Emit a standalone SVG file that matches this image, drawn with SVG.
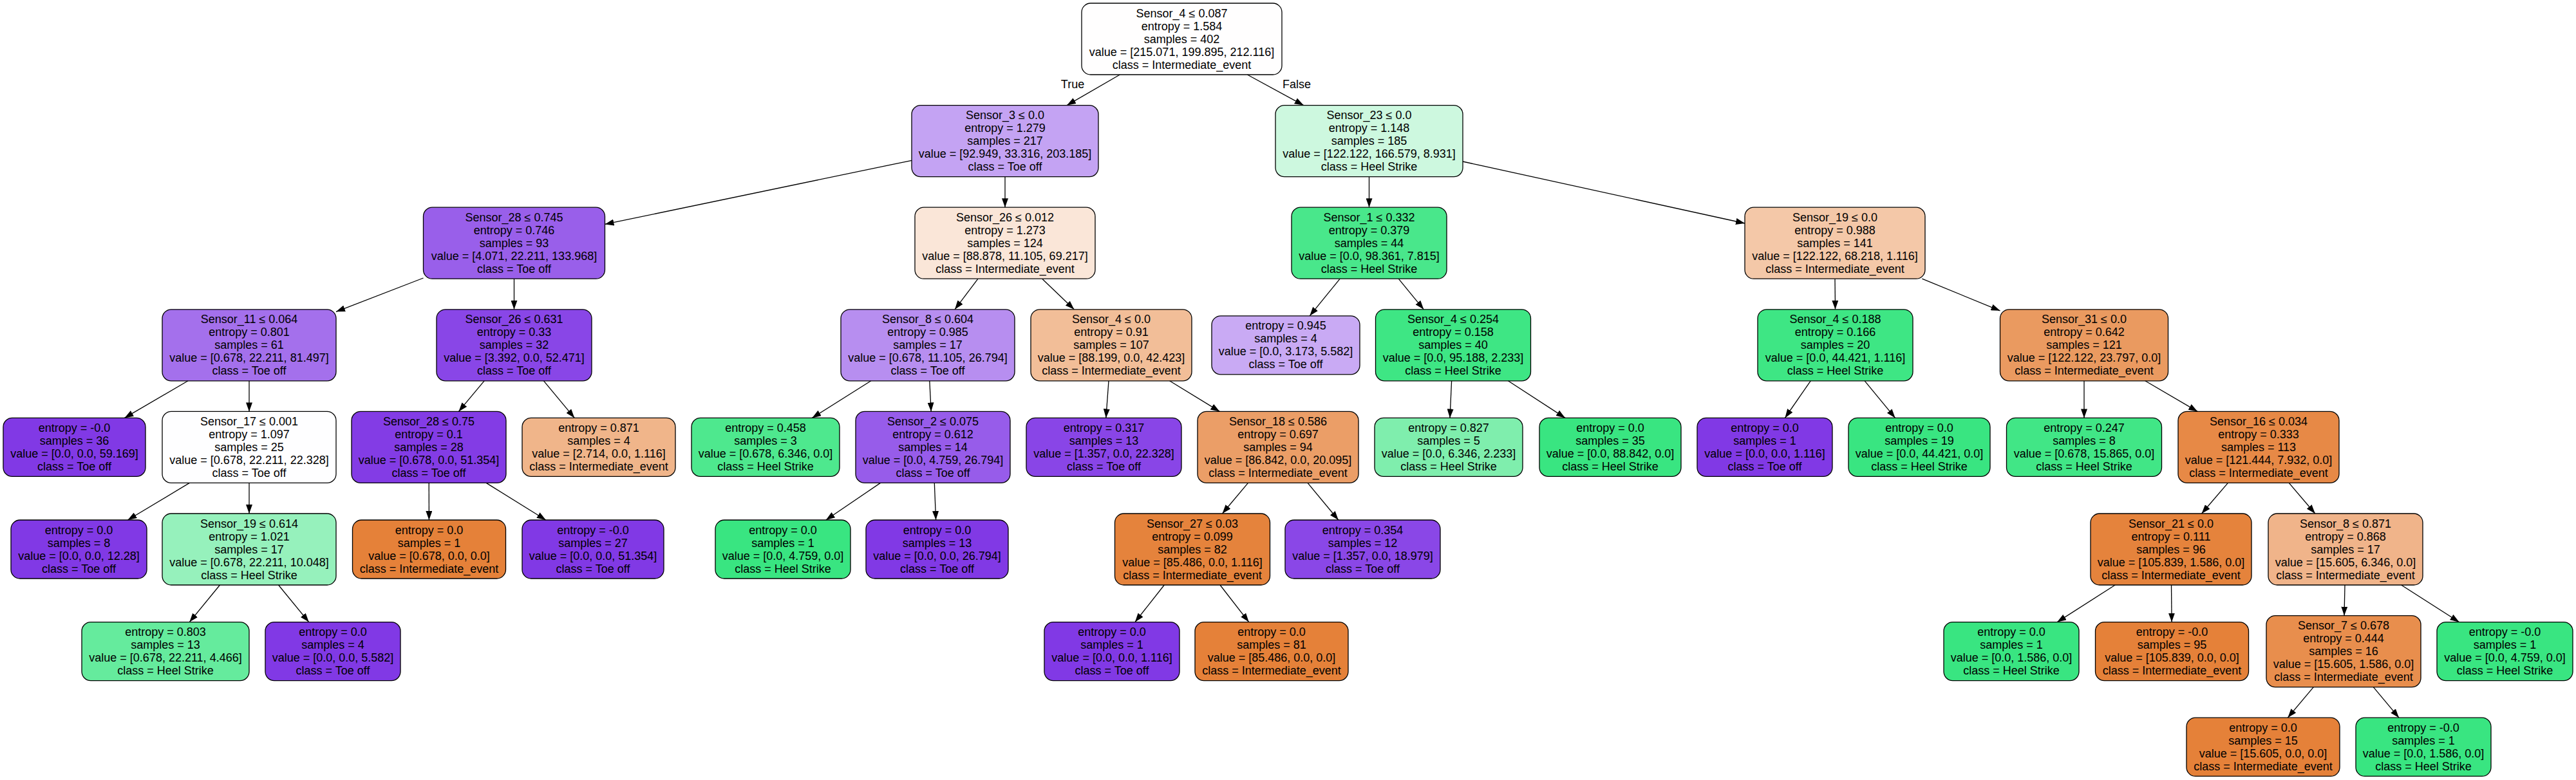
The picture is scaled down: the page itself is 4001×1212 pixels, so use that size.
<svg xmlns="http://www.w3.org/2000/svg" width="4001" height="1212" viewBox="0 0 4001 1212">
<style>
g rect{stroke:#000;stroke-width:1.3}
text{font-family:"Liberation Sans",Arial,Helvetica,sans-serif;font-size:18px;text-anchor:middle;fill:#000}
.e path{stroke:#000;stroke-width:1.3;fill:none;marker-end:url(#a)}
.o{fill:#e58139}.g{fill:#39e581}.p{fill:#8139e5}
</style>
<defs>
<marker id="a" markerWidth="14" markerHeight="10" refX="14" refY="5" orient="auto" markerUnits="userSpaceOnUse"><path d="M0,0 L14,5 L0,10 z" fill="#000"/></marker>
</defs>
<rect x="0" y="0" width="4001" height="1212" fill="#fff" style="stroke:none"/>
<g class="e" id="edges">
<path d="M1739.4,116 L1657.1,163.6"/>
<path d="M1937.3,116 L2024.7,163.6"/>
<path d="M1416,249.3 L939.5,348.4"/>
<path d="M1561,274.6 L1561,322.2"/>
<path d="M2126.5,274.6 L2126.5,322.2"/>
<path d="M2272,251 L2710,347"/>
<path d="M657.5,432 L522,484.3"/>
<path d="M798.5,433.2 L798.5,480.8"/>
<path d="M1519,433.2 L1483,480.8"/>
<path d="M1618.7,433.2 L1668.3,480.8"/>
<path d="M2081.2,433.2 L2034.2,490.8"/>
<path d="M2172.2,433.2 L2211.3,480.8"/>
<path d="M2850,433.2 L2850.5,480.8"/>
<path d="M2985.4,433.2 L3106.5,482.8"/>
<path d="M292,591.8 L193.4,649.4"/>
<path d="M387,591.8 L387,639.4"/>
<path d="M752.1,591.8 L712.4,639.4"/>
<path d="M844.5,591.8 L892.3,649.4"/>
<path d="M1352.8,591.8 L1261.3,649.4"/>
<path d="M1443.8,591.8 L1446.2,639.4"/>
<path d="M1722,591.8 L1717.8,649.4"/>
<path d="M1816.6,591.8 L1894.4,639.4"/>
<path d="M2254.6,591.8 L2252,649.4"/>
<path d="M2342.4,591.8 L2431,649.4"/>
<path d="M2812.2,591.8 L2772.4,649.4"/>
<path d="M2896.2,591.8 L2943.6,649.4"/>
<path d="M3237,591.8 L3237,649.4"/>
<path d="M3331.8,591.8 L3413.2,639.4"/>
<path d="M294.4,750.4 L198.4,808"/>
<path d="M387,750.4 L387,798"/>
<path d="M666.2,750.4 L666.4,808"/>
<path d="M755.2,750.4 L847.8,808"/>
<path d="M1367.5,750.4 L1282.8,808"/>
<path d="M1451.3,750.4 L1453.6,808"/>
<path d="M1938.5,750.4 L1898.5,798"/>
<path d="M2031,750.4 L2078.8,808"/>
<path d="M3460.4,750.4 L3419.6,798"/>
<path d="M3555.2,750.4 L3595.8,798"/>
<path d="M341.5,909 L294.3,966.6"/>
<path d="M432.5,909 L479.7,966.6"/>
<path d="M1808.3,909 L1762.9,966.6"/>
<path d="M1895,909 L1939.7,966.6"/>
<path d="M3285.2,909 L3195.2,966.6"/>
<path d="M3372.5,909 L3373.1,966.6"/>
<path d="M3642,909 L3641,956.6"/>
<path d="M3729.6,909 L3819.5,966.6"/>
<path d="M3593.3,1067.6 L3553.3,1115.2"/>
<path d="M3686.3,1067.6 L3726,1115.2"/>
</g>
<g id="edge-labels">
<text x="1666" y="136.5">True</text>
<text x="2014" y="136.5">False</text>
</g>
<g id="n0"><rect x="1680" y="5" width="311" height="111" rx="14" fill="#fffefe"/><text x="1835.5" y="26.5"><tspan x="1835.5">Sensor_4 ≤ 0.087</tspan><tspan x="1835.5" dy="20">entropy = 1.584</tspan><tspan x="1835.5" dy="20">samples = 402</tspan><tspan x="1835.5" dy="20">value = [215.071, 199.895, 212.116]</tspan><tspan x="1835.5" dy="20">class = Intermediate_event</tspan></text></g>
<g id="n1"><rect x="1416" y="163.6" width="290" height="111" rx="14" fill="#c4a3f3"/><text x="1561" y="185.1"><tspan x="1561">Sensor_3 ≤ 0.0</tspan><tspan x="1561" dy="20">entropy = 1.279</tspan><tspan x="1561" dy="20">samples = 217</tspan><tspan x="1561" dy="20">value = [92.949, 33.316, 203.185]</tspan><tspan x="1561" dy="20">class = Toe off</tspan></text></g>
<g id="n2"><rect x="1981" y="163.6" width="291" height="111" rx="14" fill="#cdf8df"/><text x="2126.5" y="185.1"><tspan x="2126.5">Sensor_23 ≤ 0.0</tspan><tspan x="2126.5" dy="20">entropy = 1.148</tspan><tspan x="2126.5" dy="20">samples = 185</tspan><tspan x="2126.5" dy="20">value = [122.122, 166.579, 8.931]</tspan><tspan x="2126.5" dy="20">class = Heel Strike</tspan></text></g>
<g id="n3"><rect x="657.5" y="322.2" width="282" height="111" rx="14" fill="#995fea"/><text x="798.5" y="343.7"><tspan x="798.5">Sensor_28 ≤ 0.745</tspan><tspan x="798.5" dy="20">entropy = 0.746</tspan><tspan x="798.5" dy="20">samples = 93</tspan><tspan x="798.5" dy="20">value = [4.071, 22.211, 133.968]</tspan><tspan x="798.5" dy="20">class = Toe off</tspan></text></g>
<g id="n4"><rect x="1421" y="322.2" width="280" height="111" rx="14" fill="#fae6d8"/><text x="1561" y="343.7"><tspan x="1561">Sensor_26 ≤ 0.012</tspan><tspan x="1561" dy="20">entropy = 1.273</tspan><tspan x="1561" dy="20">samples = 124</tspan><tspan x="1561" dy="20">value = [88.878, 11.105, 69.217]</tspan><tspan x="1561" dy="20">class = Intermediate_event</tspan></text></g>
<g id="n5"><rect x="2006" y="322.2" width="241" height="111" rx="14" fill="#49e78b"/><text x="2126.5" y="343.7"><tspan x="2126.5">Sensor_1 ≤ 0.332</tspan><tspan x="2126.5" dy="20">entropy = 0.379</tspan><tspan x="2126.5" dy="20">samples = 44</tspan><tspan x="2126.5" dy="20">value = [0.0, 98.361, 7.815]</tspan><tspan x="2126.5" dy="20">class = Heel Strike</tspan></text></g>
<g id="n6"><rect x="2710" y="322.2" width="280" height="111" rx="14" fill="#f4c8a8"/><text x="2850" y="343.7"><tspan x="2850">Sensor_19 ≤ 0.0</tspan><tspan x="2850" dy="20">entropy = 0.988</tspan><tspan x="2850" dy="20">samples = 141</tspan><tspan x="2850" dy="20">value = [122.122, 68.218, 1.116]</tspan><tspan x="2850" dy="20">class = Intermediate_event</tspan></text></g>
<g id="n7"><rect x="252" y="480.8" width="270" height="111" rx="14" fill="#a470ec"/><text x="387" y="502.3"><tspan x="387">Sensor_11 ≤ 0.064</tspan><tspan x="387" dy="20">entropy = 0.801</tspan><tspan x="387" dy="20">samples = 61</tspan><tspan x="387" dy="20">value = [0.678, 22.211, 81.497]</tspan><tspan x="387" dy="20">class = Toe off</tspan></text></g>
<g id="n8"><rect x="678" y="480.8" width="241" height="111" rx="14" fill="#8946e7"/><text x="798.5" y="502.3"><tspan x="798.5">Sensor_26 ≤ 0.631</tspan><tspan x="798.5" dy="20">entropy = 0.33</tspan><tspan x="798.5" dy="20">samples = 32</tspan><tspan x="798.5" dy="20">value = [3.392, 0.0, 52.471]</tspan><tspan x="798.5" dy="20">class = Toe off</tspan></text></g>
<g id="n9"><rect x="1306" y="480.8" width="270" height="111" rx="14" fill="#b78ef0"/><text x="1441" y="502.3"><tspan x="1441">Sensor_8 ≤ 0.604</tspan><tspan x="1441" dy="20">entropy = 0.985</tspan><tspan x="1441" dy="20">samples = 17</tspan><tspan x="1441" dy="20">value = [0.678, 11.105, 26.794]</tspan><tspan x="1441" dy="20">class = Toe off</tspan></text></g>
<g id="n10"><rect x="1601" y="480.8" width="250" height="111" rx="14" fill="#f2be98"/><text x="1726" y="502.3"><tspan x="1726">Sensor_4 ≤ 0.0</tspan><tspan x="1726" dy="20">entropy = 0.91</tspan><tspan x="1726" dy="20">samples = 107</tspan><tspan x="1726" dy="20">value = [88.199, 0.0, 42.423]</tspan><tspan x="1726" dy="20">class = Intermediate_event</tspan></text></g>
<g id="n11"><rect x="1882" y="490.8" width="230" height="91" rx="14" fill="#c9aaf4"/><text x="1997" y="512.3"><tspan x="1997">entropy = 0.945</tspan><tspan x="1997" dy="20">samples = 4</tspan><tspan x="1997" dy="20">value = [0.0, 3.173, 5.582]</tspan><tspan x="1997" dy="20">class = Toe off</tspan></text></g>
<g id="n12"><rect x="2136.5" y="480.8" width="241" height="111" rx="14" fill="#3ee684"/><text x="2257" y="502.3"><tspan x="2257">Sensor_4 ≤ 0.254</tspan><tspan x="2257" dy="20">entropy = 0.158</tspan><tspan x="2257" dy="20">samples = 40</tspan><tspan x="2257" dy="20">value = [0.0, 95.188, 2.233]</tspan><tspan x="2257" dy="20">class = Heel Strike</tspan></text></g>
<g id="n13"><rect x="2730" y="480.8" width="241" height="111" rx="14" fill="#3ee684"/><text x="2850.5" y="502.3"><tspan x="2850.5">Sensor_4 ≤ 0.188</tspan><tspan x="2850.5" dy="20">entropy = 0.166</tspan><tspan x="2850.5" dy="20">samples = 20</tspan><tspan x="2850.5" dy="20">value = [0.0, 44.421, 1.116]</tspan><tspan x="2850.5" dy="20">class = Heel Strike</tspan></text></g>
<g id="n14"><rect x="3106.5" y="480.8" width="261" height="111" rx="14" fill="#ea9a60"/><text x="3237" y="502.3"><tspan x="3237">Sensor_31 ≤ 0.0</tspan><tspan x="3237" dy="20">entropy = 0.642</tspan><tspan x="3237" dy="20">samples = 121</tspan><tspan x="3237" dy="20">value = [122.122, 23.797, 0.0]</tspan><tspan x="3237" dy="20">class = Intermediate_event</tspan></text></g>
<g id="n15"><rect x="5" y="649.4" width="221" height="91" rx="14" class="p"/><text x="115.5" y="670.9"><tspan x="115.5">entropy = -0.0</tspan><tspan x="115.5" dy="20">samples = 36</tspan><tspan x="115.5" dy="20">value = [0.0, 0.0, 59.169]</tspan><tspan x="115.5" dy="20">class = Toe off</tspan></text></g>
<g id="n16"><rect x="252" y="639.4" width="270" height="111" rx="14" fill="#fefeff"/><text x="387" y="660.9"><tspan x="387">Sensor_17 ≤ 0.001</tspan><tspan x="387" dy="20">entropy = 1.097</tspan><tspan x="387" dy="20">samples = 25</tspan><tspan x="387" dy="20">value = [0.678, 22.211, 22.328]</tspan><tspan x="387" dy="20">class = Toe off</tspan></text></g>
<g id="n17"><rect x="546" y="639.4" width="240" height="111" rx="14" fill="#833ce5"/><text x="666" y="660.9"><tspan x="666">Sensor_28 ≤ 0.75</tspan><tspan x="666" dy="20">entropy = 0.1</tspan><tspan x="666" dy="20">samples = 28</tspan><tspan x="666" dy="20">value = [0.678, 0.0, 51.354]</tspan><tspan x="666" dy="20">class = Toe off</tspan></text></g>
<g id="n18"><rect x="811" y="649.4" width="238" height="91" rx="14" fill="#f0b58a"/><text x="930" y="670.9"><tspan x="930">entropy = 0.871</tspan><tspan x="930" dy="20">samples = 4</tspan><tspan x="930" dy="20">value = [2.714, 0.0, 1.116]</tspan><tspan x="930" dy="20">class = Intermediate_event</tspan></text></g>
<g id="n19"><rect x="1074" y="649.4" width="230" height="91" rx="14" fill="#4ee88e"/><text x="1189" y="670.9"><tspan x="1189">entropy = 0.458</tspan><tspan x="1189" dy="20">samples = 3</tspan><tspan x="1189" dy="20">value = [0.678, 6.346, 0.0]</tspan><tspan x="1189" dy="20">class = Heel Strike</tspan></text></g>
<g id="n20"><rect x="1329" y="639.4" width="240" height="111" rx="14" fill="#975cea"/><text x="1449" y="660.9"><tspan x="1449">Sensor_2 ≤ 0.075</tspan><tspan x="1449" dy="20">entropy = 0.612</tspan><tspan x="1449" dy="20">samples = 14</tspan><tspan x="1449" dy="20">value = [0.0, 4.759, 26.794]</tspan><tspan x="1449" dy="20">class = Toe off</tspan></text></g>
<g id="n21"><rect x="1594" y="649.4" width="241" height="91" rx="14" fill="#8945e7"/><text x="1714.5" y="670.9"><tspan x="1714.5">entropy = 0.317</tspan><tspan x="1714.5" dy="20">samples = 13</tspan><tspan x="1714.5" dy="20">value = [1.357, 0.0, 22.328]</tspan><tspan x="1714.5" dy="20">class = Toe off</tspan></text></g>
<g id="n22"><rect x="1860" y="639.4" width="250" height="111" rx="14" fill="#eb9e67"/><text x="1985" y="660.9"><tspan x="1985">Sensor_18 ≤ 0.586</tspan><tspan x="1985" dy="20">entropy = 0.697</tspan><tspan x="1985" dy="20">samples = 94</tspan><tspan x="1985" dy="20">value = [86.842, 0.0, 20.095]</tspan><tspan x="1985" dy="20">class = Intermediate_event</tspan></text></g>
<g id="n23"><rect x="2135" y="649.4" width="230" height="91" rx="14" fill="#7feead"/><text x="2250" y="670.9"><tspan x="2250">entropy = 0.827</tspan><tspan x="2250" dy="20">samples = 5</tspan><tspan x="2250" dy="20">value = [0.0, 6.346, 2.233]</tspan><tspan x="2250" dy="20">class = Heel Strike</tspan></text></g>
<g id="n24"><rect x="2391" y="649.4" width="220" height="91" rx="14" class="g"/><text x="2501" y="670.9"><tspan x="2501">entropy = 0.0</tspan><tspan x="2501" dy="20">samples = 35</tspan><tspan x="2501" dy="20">value = [0.0, 88.842, 0.0]</tspan><tspan x="2501" dy="20">class = Heel Strike</tspan></text></g>
<g id="n25"><rect x="2636" y="649.4" width="210" height="91" rx="14" class="p"/><text x="2741" y="670.9"><tspan x="2741">entropy = 0.0</tspan><tspan x="2741" dy="20">samples = 1</tspan><tspan x="2741" dy="20">value = [0.0, 0.0, 1.116]</tspan><tspan x="2741" dy="20">class = Toe off</tspan></text></g>
<g id="n26"><rect x="2871" y="649.4" width="220" height="91" rx="14" class="g"/><text x="2981" y="670.9"><tspan x="2981">entropy = 0.0</tspan><tspan x="2981" dy="20">samples = 19</tspan><tspan x="2981" dy="20">value = [0.0, 44.421, 0.0]</tspan><tspan x="2981" dy="20">class = Heel Strike</tspan></text></g>
<g id="n27"><rect x="3116.5" y="649.4" width="241" height="91" rx="14" fill="#41e686"/><text x="3237" y="670.9"><tspan x="3237">entropy = 0.247</tspan><tspan x="3237" dy="20">samples = 8</tspan><tspan x="3237" dy="20">value = [0.678, 15.865, 0.0]</tspan><tspan x="3237" dy="20">class = Heel Strike</tspan></text></g>
<g id="n28"><rect x="3383" y="639.4" width="250" height="111" rx="14" fill="#e78946"/><text x="3508" y="660.9"><tspan x="3508">Sensor_16 ≤ 0.034</tspan><tspan x="3508" dy="20">entropy = 0.333</tspan><tspan x="3508" dy="20">samples = 113</tspan><tspan x="3508" dy="20">value = [121.444, 7.932, 0.0]</tspan><tspan x="3508" dy="20">class = Intermediate_event</tspan></text></g>
<g id="n29"><rect x="17" y="808" width="211" height="91" rx="14" class="p"/><text x="122.5" y="829.5"><tspan x="122.5">entropy = 0.0</tspan><tspan x="122.5" dy="20">samples = 8</tspan><tspan x="122.5" dy="20">value = [0.0, 0.0, 12.28]</tspan><tspan x="122.5" dy="20">class = Toe off</tspan></text></g>
<g id="n30"><rect x="252" y="798" width="270" height="111" rx="14" fill="#96f1bc"/><text x="387" y="819.5"><tspan x="387">Sensor_19 ≤ 0.614</tspan><tspan x="387" dy="20">entropy = 1.021</tspan><tspan x="387" dy="20">samples = 17</tspan><tspan x="387" dy="20">value = [0.678, 22.211, 10.048]</tspan><tspan x="387" dy="20">class = Heel Strike</tspan></text></g>
<g id="n31"><rect x="547.5" y="808" width="238" height="91" rx="14" class="o"/><text x="666.5" y="829.5"><tspan x="666.5">entropy = 0.0</tspan><tspan x="666.5" dy="20">samples = 1</tspan><tspan x="666.5" dy="20">value = [0.678, 0.0, 0.0]</tspan><tspan x="666.5" dy="20">class = Intermediate_event</tspan></text></g>
<g id="n32"><rect x="811" y="808" width="220" height="91" rx="14" class="p"/><text x="921" y="829.5"><tspan x="921">entropy = -0.0</tspan><tspan x="921" dy="20">samples = 27</tspan><tspan x="921" dy="20">value = [0.0, 0.0, 51.354]</tspan><tspan x="921" dy="20">class = Toe off</tspan></text></g>
<g id="n33"><rect x="1111" y="808" width="210" height="91" rx="14" class="g"/><text x="1216" y="829.5"><tspan x="1216">entropy = 0.0</tspan><tspan x="1216" dy="20">samples = 1</tspan><tspan x="1216" dy="20">value = [0.0, 4.759, 0.0]</tspan><tspan x="1216" dy="20">class = Heel Strike</tspan></text></g>
<g id="n34"><rect x="1345" y="808" width="221" height="91" rx="14" class="p"/><text x="1455.5" y="829.5"><tspan x="1455.5">entropy = 0.0</tspan><tspan x="1455.5" dy="20">samples = 13</tspan><tspan x="1455.5" dy="20">value = [0.0, 0.0, 26.794]</tspan><tspan x="1455.5" dy="20">class = Toe off</tspan></text></g>
<g id="n35"><rect x="1731.5" y="798" width="241" height="111" rx="14" fill="#e5833c"/><text x="1852" y="819.5"><tspan x="1852">Sensor_27 ≤ 0.03</tspan><tspan x="1852" dy="20">entropy = 0.099</tspan><tspan x="1852" dy="20">samples = 82</tspan><tspan x="1852" dy="20">value = [85.486, 0.0, 1.116]</tspan><tspan x="1852" dy="20">class = Intermediate_event</tspan></text></g>
<g id="n36"><rect x="1996" y="808" width="241" height="91" rx="14" fill="#8a47e7"/><text x="2116.5" y="829.5"><tspan x="2116.5">entropy = 0.354</tspan><tspan x="2116.5" dy="20">samples = 12</tspan><tspan x="2116.5" dy="20">value = [1.357, 0.0, 18.979]</tspan><tspan x="2116.5" dy="20">class = Toe off</tspan></text></g>
<g id="n37"><rect x="3247" y="798" width="250" height="111" rx="14" fill="#e5833c"/><text x="3372" y="819.5"><tspan x="3372">Sensor_21 ≤ 0.0</tspan><tspan x="3372" dy="20">entropy = 0.111</tspan><tspan x="3372" dy="20">samples = 96</tspan><tspan x="3372" dy="20">value = [105.839, 1.586, 0.0]</tspan><tspan x="3372" dy="20">class = Intermediate_event</tspan></text></g>
<g id="n38"><rect x="3523" y="798" width="240" height="111" rx="14" fill="#f0b48a"/><text x="3643" y="819.5"><tspan x="3643">Sensor_8 ≤ 0.871</tspan><tspan x="3643" dy="20">entropy = 0.868</tspan><tspan x="3643" dy="20">samples = 17</tspan><tspan x="3643" dy="20">value = [15.605, 6.346, 0.0]</tspan><tspan x="3643" dy="20">class = Intermediate_event</tspan></text></g>
<g id="n39"><rect x="127" y="966.6" width="260" height="91" rx="14" fill="#65eb9d"/><text x="257" y="988.1"><tspan x="257">entropy = 0.803</tspan><tspan x="257" dy="20">samples = 13</tspan><tspan x="257" dy="20">value = [0.678, 22.211, 4.466]</tspan><tspan x="257" dy="20">class = Heel Strike</tspan></text></g>
<g id="n40"><rect x="412" y="966.6" width="210" height="91" rx="14" class="p"/><text x="517" y="988.1"><tspan x="517">entropy = 0.0</tspan><tspan x="517" dy="20">samples = 4</tspan><tspan x="517" dy="20">value = [0.0, 0.0, 5.582]</tspan><tspan x="517" dy="20">class = Toe off</tspan></text></g>
<g id="n41"><rect x="1622" y="966.6" width="210" height="91" rx="14" class="p"/><text x="1727" y="988.1"><tspan x="1727">entropy = 0.0</tspan><tspan x="1727" dy="20">samples = 1</tspan><tspan x="1727" dy="20">value = [0.0, 0.0, 1.116]</tspan><tspan x="1727" dy="20">class = Toe off</tspan></text></g>
<g id="n42"><rect x="1856" y="966.6" width="238" height="91" rx="14" class="o"/><text x="1975" y="988.1"><tspan x="1975">entropy = 0.0</tspan><tspan x="1975" dy="20">samples = 81</tspan><tspan x="1975" dy="20">value = [85.486, 0.0, 0.0]</tspan><tspan x="1975" dy="20">class = Intermediate_event</tspan></text></g>
<g id="n43"><rect x="3019" y="966.6" width="210" height="91" rx="14" class="g"/><text x="3124" y="988.1"><tspan x="3124">entropy = 0.0</tspan><tspan x="3124" dy="20">samples = 1</tspan><tspan x="3124" dy="20">value = [0.0, 1.586, 0.0]</tspan><tspan x="3124" dy="20">class = Heel Strike</tspan></text></g>
<g id="n44"><rect x="3254.5" y="966.6" width="238" height="91" rx="14" class="o"/><text x="3373.5" y="988.1"><tspan x="3373.5">entropy = -0.0</tspan><tspan x="3373.5" dy="20">samples = 95</tspan><tspan x="3373.5" dy="20">value = [105.839, 0.0, 0.0]</tspan><tspan x="3373.5" dy="20">class = Intermediate_event</tspan></text></g>
<g id="n45"><rect x="3520" y="956.6" width="240" height="111" rx="14" fill="#e88e4d"/><text x="3640" y="978.1"><tspan x="3640">Sensor_7 ≤ 0.678</tspan><tspan x="3640" dy="20">entropy = 0.444</tspan><tspan x="3640" dy="20">samples = 16</tspan><tspan x="3640" dy="20">value = [15.605, 1.586, 0.0]</tspan><tspan x="3640" dy="20">class = Intermediate_event</tspan></text></g>
<g id="n46"><rect x="3785" y="966.6" width="211" height="91" rx="14" class="g"/><text x="3890.5" y="988.1"><tspan x="3890.5">entropy = -0.0</tspan><tspan x="3890.5" dy="20">samples = 1</tspan><tspan x="3890.5" dy="20">value = [0.0, 4.759, 0.0]</tspan><tspan x="3890.5" dy="20">class = Heel Strike</tspan></text></g>
<g id="n47"><rect x="3396" y="1115.2" width="238" height="91" rx="14" class="o"/><text x="3515" y="1136.7"><tspan x="3515">entropy = 0.0</tspan><tspan x="3515" dy="20">samples = 15</tspan><tspan x="3515" dy="20">value = [15.605, 0.0, 0.0]</tspan><tspan x="3515" dy="20">class = Intermediate_event</tspan></text></g>
<g id="n48"><rect x="3659" y="1115.2" width="210" height="91" rx="14" class="g"/><text x="3764" y="1136.7"><tspan x="3764">entropy = -0.0</tspan><tspan x="3764" dy="20">samples = 1</tspan><tspan x="3764" dy="20">value = [0.0, 1.586, 0.0]</tspan><tspan x="3764" dy="20">class = Heel Strike</tspan></text></g>
</svg>
